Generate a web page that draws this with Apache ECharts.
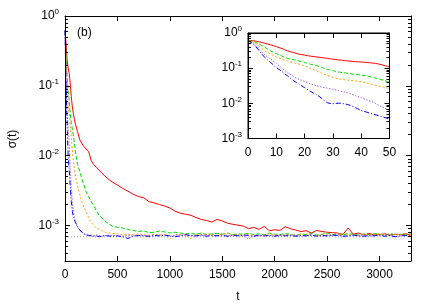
<!DOCTYPE html>
<html><head><meta charset="utf-8">
<script src="https://cdn.jsdelivr.net/npm/echarts@6/dist/echarts.min.js"></script>
<style>html,body{margin:0;padding:0;background:#fff}#c{width:436px;height:305px}</style>
</head><body><div id="c"></div>
<script>
var tMain = [0,10,20,30,40,50,60,70,80,90,
 100,120,140,160,180,200,225,250,275,300,
 325,350,375,400,450,500,550,600,650,700,
 750,800,850,900,950,1000,1050,1100,1150,1200,
 1250,1300,1350,1400,1450,1500,1550,1600,1650,1700,
 1750,1800,1850,1900,1950,2000,2050,2100,2150,2200,
 2250,2300,2350,2400,2450,2500,2550,2600,2650,2700,
 2750,2800,2850,2900,2950,3000,3050,3100,3150,3200,
 3250,3300];
var redMain = [0.62,0.41,0.235,0.18,0.15,0.108,0.07,0.05,0.04,0.033,
 0.028,0.022,0.017,0.015,0.0135,0.0125,0.0115,0.0085,0.0074,0.0068,
 0.0062,0.0057,0.0052,0.0048,0.0042,0.0038,0.0034,0.0031,0.0028,0.0026,
 0.0025,0.0022,0.0021,0.002,0.0019,0.00178,0.0016,0.0015,0.00145,0.0014,
 0.0013,0.00122,0.00118,0.00112,0.00122,0.00116,0.00108,0.00104,0.00101,0.00098,
 0.0009,0.00094,0.00088,0.00097,0.00084,0.00087,0.00085,0.00096,0.0009,0.00086,
 0.00082,0.00084,0.00078,0.00085,0.00082,0.0008,0.00079,0.00078,0.00074,0.00092,
 0.00075,0.00078,0.00073,0.00077,0.00073,0.00074,0.00076,0.00073,0.00075,0.00074,
 0.00076,0.00073];
var greenMain = [0.62,0.26,0.145,0.085,0.064,0.04,0.03,0.024,0.019,0.015,
 0.011,0.0075,0.006,0.0047,0.0038,0.0031,0.0026,0.0022,0.0019,0.0016,
 0.0014,0.0013,0.00118,0.0011,0.00098,0.00094,0.00092,0.00088,0.00085,0.00082,
 0.00084,0.00079,0.0008,0.00083,0.00081,0.00078,0.0008,0.00078,0.00076,0.00077,
 0.00075,0.00078,0.00074,0.00076,0.00077,0.00075,0.00078,0.00074,0.00076,0.00075,
 0.00077,0.00074,0.00076,0.00073,0.00078,0.00075,0.00074,0.00077,0.00075,0.00072,
 0.00076,0.00074,0.00077,0.00073,0.00075,0.00078,0.00074,0.00076,0.00073,0.00077,
 0.00075,0.00073,0.00076,0.00074,0.00077,0.00075,0.00073,0.00076,0.00074,0.00075,
 0.00074,0.00076];
var orangeMain = [0.62,0.21,0.115,0.055,0.041,0.026,0.018,0.012,0.0085,0.0065,
 0.005,0.0037,0.0028,0.0022,0.0018,0.0016,0.0013,0.0011,0.001,0.00092,
 0.00088,0.00084,0.00081,0.00079,0.00077,0.00076,0.00074,0.00075,0.00073,0.00076,
 0.00074,0.00072,0.00075,0.00073,0.00074,0.00063,0.00075,0.00073,0.00074,0.00064,
 0.00075,0.00073,0.00076,0.00074,0.00072,0.00075,0.00077,0.00073,0.00074,0.00072,
 0.00075,0.00073,0.00071,0.00074,0.00076,0.00073,0.00072,0.00075,0.00074,0.00072,
 0.00074,0.00076,0.00073,0.00071,0.00074,0.00075,0.00072,0.00074,0.00076,0.00073,
 0.00074,0.00072,0.00075,0.00073,0.00074,0.00076,0.00073,0.00072,0.00075,0.00074,
 0.00073,0.00074];
var violetMain = [0.62,0.135,0.042,0.025,0.0145,0.0063,0.0035,0.0022,0.0016,0.0013,
 0.0011,0.00095,0.00085,0.0008,0.00077,0.00075,0.00073,0.00072,0.00071,0.00073,
 0.00072,0.0007,0.00071,0.00073,0.00072,0.00071,0.0007,0.00072,0.00073,0.00071,
 0.00072,0.0007,0.00071,0.00073,0.00072,0.0007,0.00072,0.00074,0.00071,0.00072,
 0.0007,0.00072,0.00073,0.00071,0.00072,0.0007,0.00072,0.00071,0.00073,0.00071,
 0.00064,0.00072,0.0007,0.00073,0.00071,0.00072,0.0007,0.00071,0.00073,0.00072,
 0.0007,0.00071,0.00073,0.00072,0.0007,0.00071,0.00072,0.00073,0.00071,0.0007,
 0.00072,0.00071,0.00073,0.0007,0.00072,0.00071,0.00073,0.00072,0.0007,0.00071,
 0.00072,0.00071];
var blueMain = [0.62,0.105,0.028,0.0098,0.0063,0.0036,0.0022,0.0016,0.0013,0.0012,
 0.0011,0.00098,0.00087,0.0008,0.00076,0.00073,0.00072,0.00071,0.0007,0.00071,
 0.00069,0.0007,0.00072,0.00071,0.0007,0.00071,0.00069,0.00065,0.0007,0.00072,
 0.00071,0.0007,0.00072,0.00071,0.00073,0.00071,0.00069,0.00071,0.00074,0.00072,
 0.00071,0.00073,0.0007,0.00072,0.00071,0.00073,0.0007,0.00072,0.00071,0.00073,
 0.00072,0.0007,0.00073,0.00071,0.00072,0.0007,0.00073,0.00071,0.00072,0.0007,
 0.00072,0.00071,0.00073,0.0007,0.00072,0.00071,0.00073,0.00072,0.0007,0.00071,
 0.00073,0.00071,0.0007,0.00072,0.00071,0.00073,0.0007,0.00072,0.00069,0.00071,
 0.00072,0.0007];
var refLevel = 0.00069;

var tInset = [0,2,4,6,8,10,12,14,16,18,20,22,24,26,28,30,32,34,36,38,40,42,44,46,48,50];
var redInset = [0.62,0.6,0.56,0.51,0.46,0.41,0.36,0.31,0.28,0.25,0.235,0.22,0.21,0.2,0.19,0.18,0.172,0.165,0.158,0.153,0.15,0.145,0.14,0.132,0.12,0.108];
var greenInset = [0.62,0.57,0.48,0.39,0.31,0.26,0.22,0.19,0.175,0.16,0.145,0.13,0.12,0.105,0.093,0.085,0.078,0.074,0.07,0.066,0.064,0.06,0.055,0.05,0.045,0.04];
var orangeInset = [0.62,0.55,0.42,0.31,0.25,0.21,0.18,0.16,0.145,0.13,0.115,0.1,0.085,0.072,0.062,0.055,0.05,0.047,0.045,0.043,0.041,0.038,0.034,0.031,0.029,0.026];
var violetInset = [0.62,0.5,0.35,0.24,0.18,0.135,0.1,0.075,0.058,0.048,0.042,0.036,0.032,0.029,0.027,0.025,0.023,0.021,0.019,0.0165,0.0145,0.0125,0.011,0.009,0.0075,0.0063];
var blueInset = [0.62,0.47,0.31,0.2,0.145,0.105,0.08,0.06,0.045,0.035,0.028,0.022,0.018,0.014,0.0105,0.0098,0.0101,0.0097,0.0088,0.0075,0.0063,0.0056,0.005,0.0045,0.004,0.0036];

var colors = {red:'#ff0000', green:'#00dd00', orange:'#ffa000', violet:'#b060f0', blue:'#0000ff'};
var dashes = {red:'solid', green:[4,2], orange:[2,2], violet:[1.5,1.5], blue:[5,2,1,2]};

function pairs(t, v){ var n = Math.min(t.length, v.length), o = []; for (var i=0;i<n;i++) o.push([t[i], v[i]]); return o; }
var FONT = 'Liberation Sans, Arial, sans-serif';
function logFmt(v){ var e = Math.round(Math.log10(v)); return '10{sup|' + e + '}'; }
var logRich = { sup: { fontSize: 8, fontFamily: FONT, color:'#000', verticalAlign:'top', padding:[0,0,8,0] } };

function xAx(grid, max, interval, pos, showLabel){
  return { gridIndex: grid, type:'value', min:0, max:max, interval:interval, position:pos, z:5,
    axisLine:{show:true, onZero:false, lineStyle:{color:'#000', width:1}},
    axisTick:{show:true, inside:true, length:5, lineStyle:{color:'#000'}},
    axisLabel:{show:showLabel, color:'#000', fontSize:12, fontFamily:FONT, margin:8, showMaxLabel: max===50,
      formatter: function(v){ return String(v); }},
    splitLine:{show:false} };
}
function yAx(grid, min, pos, showLabel){
  return { gridIndex: grid, type:'log', logBase:10, min:min, max:1, position:pos, z:5,
    axisLine:{show:true, onZero:false, lineStyle:{color:'#000', width:1}},
    axisTick:{show:true, inside:true, length:5, lineStyle:{color:'#000'}},
    minorTick:{show:true, splitNumber:9, length:3, lineStyle:{color:'#000'}},
    axisLabel:{show:showLabel, color:'#000', fontSize:12, fontFamily:FONT, margin:6, showMinLabel: grid===1,
      formatter: logFmt, rich: logRich},
    splitLine:{show:false} };
}

var series = [];
series.push({ type:'line', xAxisIndex:0, yAxisIndex:0, data: pairs([0,3300],[refLevel,refLevel]), symbol:'none',
  lineStyle:{color:'#aaaaaa', width:1, type:[1,2]}, silent:true });
['red','green','orange','violet','blue'].forEach(function(k){
  var mainArr = {red:redMain, green:greenMain, orange:orangeMain, violet:violetMain, blue:blueMain}[k];
  var inArr = {red:redInset, green:greenInset, orange:orangeInset, violet:violetInset, blue:blueInset}[k];
  series.push({ type:'line', xAxisIndex:0, yAxisIndex:0, data: pairs(tMain, mainArr), symbol:'none',
    lineStyle:{color:colors[k], width:1, type:dashes[k]}, animation:false });
  series.push({ type:'line', xAxisIndex:2, yAxisIndex:2, data: pairs(tInset, inArr), symbol:'none', smooth:0.3,
    lineStyle:{color:colors[k], width:1, type:dashes[k]}, animation:false });
});

var chart = echarts.init(document.getElementById('c'), null, {renderer:'canvas'});
chart.setOption({
  animation:false,
  backgroundColor:'#fff',
  grid:[
    {left:65, top:16, width:346, height:245},
    {left:248, top:33, width:141.5, height:105.5, show:true, backgroundColor:'#fff', borderWidth:1, borderColor:'#000'}
  ],
  xAxis:[ xAx(0,3300,500,'bottom',true), xAx(0,3300,500,'top',false), xAx(1,50,10,'bottom',true), xAx(1,50,10,'top',false) ],
  yAxis:[ yAx(0,3.1e-4,'left',true), yAx(0,3.1e-4,'right',false), yAx(1,1e-3,'left',true), yAx(1,1e-3,'right',false) ],
  series: series,
  graphic:[
    {type:'text', left:77, top:27, style:{text:'(b)', font:'12px '+FONT, fill:'#000'}},
    {type:'text', x:13, y:139, rotation:Math.PI/2, style:{text:'σ(t)', font:'12px '+FONT, fill:'#000', align:'center', verticalAlign:'middle'}},
    {type:'text', x:238, y:297, style:{text:'t', font:'12px '+FONT, fill:'#000', align:'center', verticalAlign:'middle'}}
  ]
});
</script></body></html>
